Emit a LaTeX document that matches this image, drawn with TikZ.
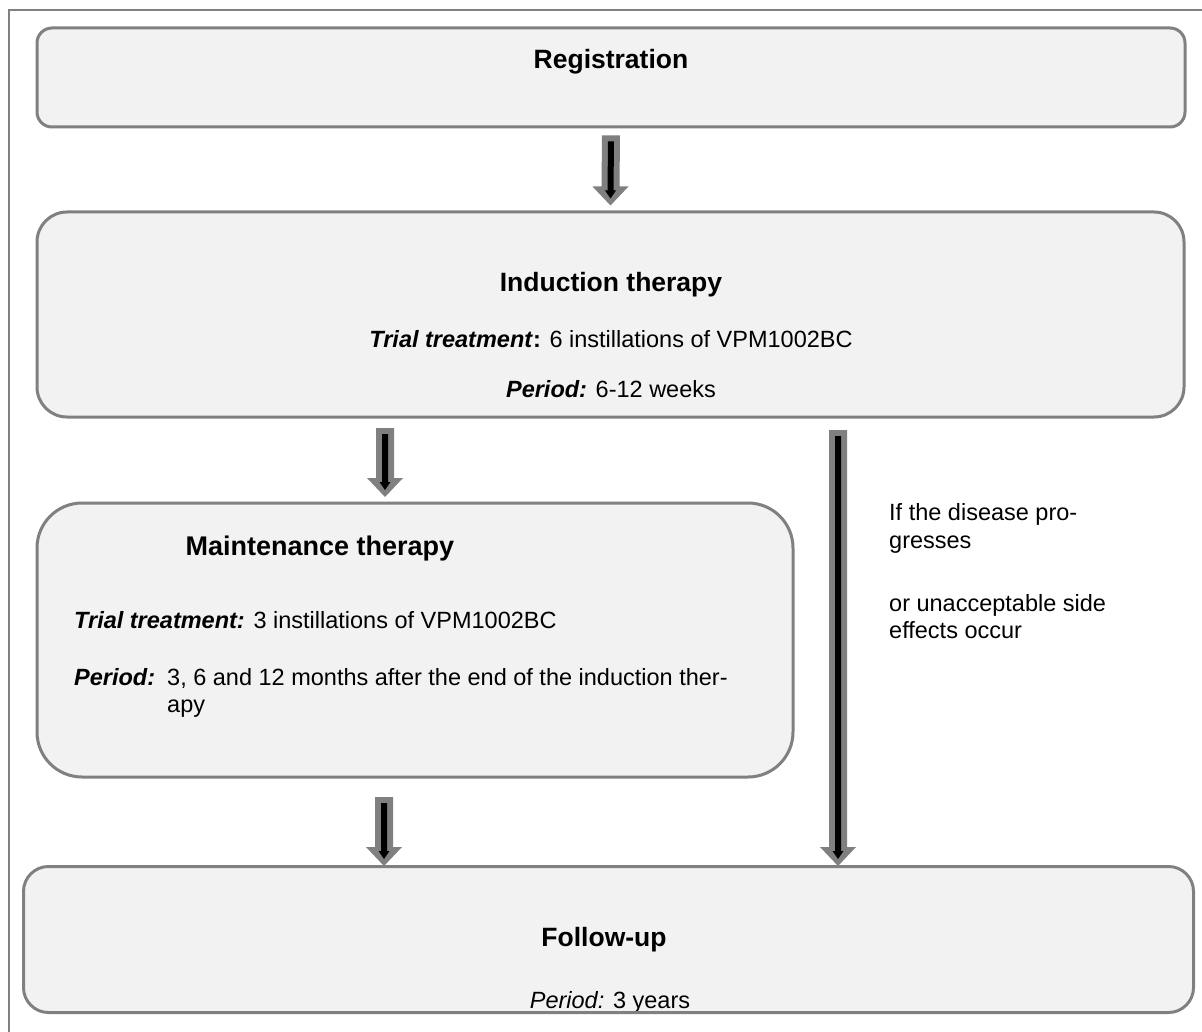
\documentclass[tikz,border=0pt]{standalone}
\usepackage{fontspec}
\setmainfont{Liberation Sans}
\usetikzlibrary{calc}
\definecolor{boxfill}{HTML}{F2F2F2}
\definecolor{boxline}{HTML}{808080}
\newcommand{\blockarr}[2]{%
  \fill[boxline] ($(#1)+(-9,0)$) -- ($(#2)+(-9,-19)$) -- ($(#2)+(-18,-19)$) -- (#2)
     -- ($(#2)+(18,-19)$) -- ($(#2)+(9,-19)$) -- ($(#1)+(9,0)$) -- cycle;
  \fill[black] ($(#1)+(-3,6)$) -- ($(#2)+(-3,-15)$) -- ($(#2)+(-5.5,-15)$) -- ($(#2)+(0,-7)$)
     -- ($(#2)+(5.5,-15)$) -- ($(#2)+(3,-15)$) -- ($(#1)+(3,6)$) -- cycle;
}
\begin{document}
\begin{tikzpicture}[x=1pt,y=-1pt,
  box/.style={draw=boxline, line width=3pt, fill=boxfill, inner sep=0pt},
  txt/.style={font=\fontsize{23.5}{27}\selectfont, inner sep=0pt, anchor=base},
  ttl/.style={font=\fontsize{26.5}{30}\selectfont\bfseries, inner sep=0pt, anchor=base},
  ltxt/.style={txt, anchor=base west}]
\useasboundingbox (0,0) rectangle (1202,1032);
\fill[white] (0,0) rectangle (1202,1032);
\draw[boxline, line width=2pt] (9,1032) -- (9,10) -- (1202,10);

% boxes
\node[box, rounded corners=15pt, minimum width=1148pt, minimum height=99pt] (reg) at (611,77.5) {};
\node[box, rounded corners=30pt, minimum width=1147pt, minimum height=205pt] (ind) at (610.5,314.5) {};
\node[box, rounded corners=45pt, minimum width=756pt, minimum height=274pt] (maint) at (415,640) {};
\node[box, draw=none, rounded corners=25pt, minimum width=1167pt, minimum height=143pt] (fu) at (608.5,939.5) {};

% texts
\node[ttl] (regt) at (611,69) {Registration};
\node[ttl] (indt) at (611,291) {Induction therapy};
\node[txt] (indtr) at (611,348) {\textbf{\textit{Trial treatment}:} 6 instillations of VPM1002BC};
\node[txt] (indp) at (611,397) {\textbf{\textit{Period:}} 6-12 weeks};
\node[ttl, font=\fontsize{27}{31}\selectfont\bfseries] (mt) at (320,555) {Maintenance therapy};
\node[ltxt] (mtr) at (74,628) {\textbf{\textit{Trial treatment:}} 3 instillations of VPM1002BC};
\node[ltxt] (mpl) at (74,685) {\textbf{\textit{Period:}}};
\node[ltxt] (mp1) at (167,685) {3, 6 and 12 months after the end of the induction ther-};
\node[ltxt] (mp2) at (167,712) {apy};
\node[ltxt] (r1) at (889,520) {If the disease pro-};
\node[ltxt] (r2) at (889,548) {gresses};
\node[ltxt] (r3) at (889,611) {or unacceptable side};
\node[ltxt] (r4) at (889,638) {effects occur};
\node[ttl] (fut) at (604,946) {Follow-up};
\node[txt] (fup) at (610,1008) {\textit{Period:} 3 years};
\draw[boxline, line width=3pt, rounded corners=25pt] (fu.south west) rectangle (fu.north east);

% arrows
\coordinate (a1s) at ($(reg.south)+(0,7)$);
\coordinate (a1e) at ($(ind.north)+(0,-5)$);
\coordinate (a2s) at (385,428);
\coordinate (a2e) at (385,497);
\coordinate (a3s) at (384,797);
\coordinate (a3e) at (384,866);
\coordinate (a4s) at (838,430);
\coordinate (a4e) at (838,866);
\blockarr{a1s}{a1e}
\blockarr{a2s}{a2e}
\blockarr{a3s}{a3e}
\blockarr{a4s}{a4e}
\end{tikzpicture}
\end{document}
